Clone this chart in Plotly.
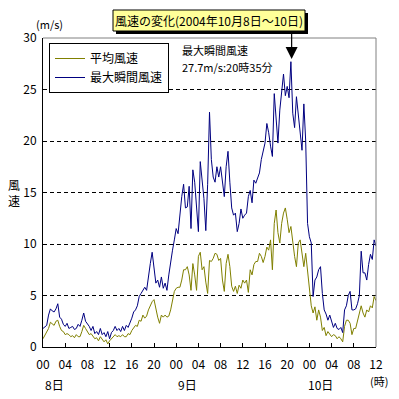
import plotly.graph_objects as go

# 20-minute samples, Oct 8 00:00 -> Oct 10 12:00 (hours since Oct 8 00:00)
gust = [
    1.8, 2.0, 2.1,  3.1, 3.7, 3.5,  3.4, 3.7, 4.2,  2.9, 2.7, 2.2,
    2.0, 2.3, 1.8,  1.9, 2.0, 1.7,  1.8, 2.2, 2.0,  2.6, 3.3, 2.5,
    2.3, 2.0, 1.6,  2.0, 1.3, 1.5,  1.2, 1.8, 1.2,  1.4, 1.0, 1.5,
    0.8, 1.4, 1.6,  2.0, 1.6, 1.8,  1.5, 2.0, 1.6,  2.1, 1.9, 2.3,
    2.8, 3.4, 3.6,  4.0, 4.9, 5.2,  5.5, 5.8, 5.5,  7.1, 8.1, 9.2,
    7.8, 6.2, 6.5,  5.8, 6.8, 5.7,  6.2, 5.5, 7.0,  8.4, 9.4, 10.4,
    11.5, 11.0, 13.0,  14.6, 15.8, 13.5,  13.6, 15.6, 11.5,  17.2, 16.0, 13.5,
    11.2, 18.0, 16.5,  14.4, 11.3, 15.8,  22.8, 18.2, 16.5,  16.0, 17.5, 16.5,
    17.5, 16.0, 14.6,  17.5, 19.0, 16.0,  13.5, 12.8, 13.0,  11.2, 12.0, 13.4,
    12.5, 12.8, 13.0,  14.6, 15.2, 14.0,  16.2, 15.9, 16.5,  16.9, 18.2, 19.0,
    19.8, 21.7, 20.8,  19.5, 18.5, 24.6,  21.7, 19.8, 23.0,  25.0, 26.5, 24.4,
    25.3, 24.2, 27.7,  22.7, 21.3, 24.3,  22.4, 21.0, 19.1,  23.6, 20.0, 12.0,
    10.7, 10.1, 4.9,  6.5, 6.8, 7.5,  7.8, 5.2, 3.6,  3.2, 2.6, 3.1,
    2.4, 1.9, 2.3,  1.8, 1.7, 1.9,  1.4, 3.6, 4.0,  5.0, 5.4, 3.6,
    3.6, 3.7, 4.2,  5.0, 9.3, 7.2,  7.2, 6.5, 8.0,  9.0, 8.5, 10.4,
    9.8,
]

mean = [
    0.8, 1.1, 1.5,  1.8, 2.4, 2.2,  2.1, 2.5, 2.6,  2.0, 1.6, 1.5,
    1.2, 1.3, 1.2,  1.0, 1.1, 0.9,  1.2, 1.0, 1.0,  1.5, 2.1, 1.8,
    1.5, 1.2, 1.3,  1.0, 0.8, 0.9,  0.6, 1.0, 0.8,  0.5, 0.7, 0.3,
    0.6, 0.8, 1.0,  1.2, 1.0, 1.1,  1.0, 1.2, 1.0,  1.0, 1.3, 1.2,
    1.6, 1.8, 2.1,  2.0, 2.6, 2.5,  3.1, 2.8, 3.0,  3.6, 4.0, 4.4,
    4.6, 3.6, 2.9,  2.3, 3.1, 2.9,  3.1, 2.9, 3.0,  3.6, 4.6, 5.4,
    5.7, 5.8, 5.8,  6.5, 7.5, 7.5,  7.8, 7.0, 5.5,  8.1, 7.0, 5.5,
    8.8, 9.2, 7.5,  7.8, 6.3, 5.2,  8.4, 8.3, 8.6,  9.1, 9.0, 8.4,
    8.6, 6.5, 5.4,  8.1, 9.0, 7.8,  5.9, 5.4, 5.9,  5.2, 6.0, 5.7,
    6.5, 6.2, 6.5,  5.3, 7.5, 7.0,  8.0, 8.3, 8.3,  9.1, 8.8, 8.2,
    8.8, 9.7, 9.4,  10.4, 7.5, 12.0,  13.3, 11.1, 10.1,  12.0, 13.0, 13.5,
    12.4, 11.1, 11.7,  10.1, 8.8, 7.8,  10.1, 10.4, 8.8,  7.8, 9.1, 7.2,
    5.2, 4.0, 3.3,  3.9, 2.6, 3.6,  2.9, 1.6, 1.9,  1.1, 1.5, 1.3,
    1.0, 1.2, 1.1,  0.8, 1.0, 0.8,  0.5, 2.0, 2.6,  2.6, 2.3, 1.2,
    1.8, 1.8, 2.5,  3.3, 4.0, 3.3,  2.9, 3.6, 3.4,  4.0, 3.8, 4.9,
    4.5,
]

hours = [i / 3 for i in range(len(gust))]
tick_vals = list(range(0, 61, 4))
tick_text = ["00", "04", "08", "12", "16", "20", "00", "04", "08", "12", "16", "20", "00", "04", "08", "12"]
day_labels = ["8日", "9日", "10日"]
day_pos = [2, 26, 50]

FONT = "Noto Sans CJK JP"
OFF = 8  # default page body margin
W = H = 399 - OFF
# plot area in page pixels
L, R, T, B = 43, 376, 38, 347


def px(x):
    return (x - L) / (R - L)


def py(y):
    return (B - y) / (B - T)


fig = go.Figure()
fig.add_trace(go.Scatter(x=hours, y=mean, mode="lines", name="平均風速",
                         line=dict(color="#808000", width=1)))
fig.add_trace(go.Scatter(x=hours, y=gust, mode="lines", name="最大瞬間風速",
                         line=dict(color="#000080", width=1)))

fig.update_layout(
    width=W, height=H,
    margin=dict(l=L - OFF, r=W - (R - OFF), t=T - OFF, b=H - (B - OFF), autoexpand=False),
    paper_bgcolor="white", plot_bgcolor="white",
    font=dict(family=FONT, size=12, color="black"),
    showlegend=True,
    legend=dict(x=px(49), y=py(43), xanchor="left", yanchor="top",
                bordercolor="black", borderwidth=1, bgcolor="white",
                font=dict(size=12), tracegroupgap=0, itemwidth=30),
    xaxis=dict(range=[0, 60], tickvals=tick_vals, ticktext=tick_text,
               showgrid=False, zeroline=False, showline=True, linecolor="black",
               linewidth=1, ticks="inside", ticklen=4, tickcolor="black",
               tickfont=dict(size=12), automargin=False, ticklabelstandoff=7),
    yaxis=dict(range=[0, 30], dtick=5, showgrid=True, gridcolor="black",
               griddash="4px,3px", gridwidth=1, zeroline=False, showline=True,
               linecolor="black", linewidth=1, ticks="", tickfont=dict(size=12),
               automargin=False, ticklabelstandoff=3),
)

# gray top/right frame
fig.add_shape(type="line", xref="paper", yref="paper", x0=0, x1=1, y0=1, y1=1,
              line=dict(color="#808080", width=1))
fig.add_shape(type="line", xref="paper", yref="paper", x0=1, x1=1, y0=0, y1=1,
              line=dict(color="#808080", width=1))

# title box with shadow
fig.add_shape(type="rect", xref="paper", yref="paper", x0=px(116), x1=px(308),
              y0=py(34), y1=py(13), fillcolor="black", line=dict(width=0))
fig.add_shape(type="rect", xref="paper", yref="paper", x0=px(113), x1=px(305),
              y0=py(31), y1=py(10), fillcolor="#FFFF99", line=dict(color="black", width=1))
fig.add_annotation(xref="paper", yref="paper", x=px(209), y=py(20.5),
                   text="風速の変化(2004年10月8日～10日)", showarrow=False,
                   font=dict(size=12), xanchor="center", yanchor="middle")

# arrow to peak
fig.add_annotation(x=44.8, y=(B - 59) / ((B - T) / 30), xref="x", yref="y",
                   text="", showarrow=True, ax=0, ay=-28, arrowhead=2,
                   arrowsize=2.0, arrowwidth=1.2, arrowcolor="black")

# peak text
fig.add_annotation(xref="paper", yref="paper", x=px(180), y=py(50), text="最大瞬間風速",
                   showarrow=False, xanchor="left", yanchor="middle", font=dict(size=11))
fig.add_annotation(xref="paper", yref="paper", x=px(180), y=py(67), text="27.7m/s:20時35分",
                   showarrow=False, xanchor="left", yanchor="middle", font=dict(size=11))

# units / axis titles
fig.add_annotation(xref="paper", yref="paper", x=px(49), y=py(24), text="(m/s)",
                   showarrow=False, xanchor="center", yanchor="middle", font=dict(size=11))
fig.add_annotation(xref="paper", yref="paper", x=px(14), y=py(192), text="風<br>速",
                   showarrow=False, xanchor="center", yanchor="middle", font=dict(size=12))
for lab, pos in zip(day_labels, day_pos):
    fig.add_annotation(x=pos, xref="x", yref="paper", y=py(384), text=lab,
                       showarrow=False, xanchor="center", yanchor="middle", font=dict(size=12))
fig.add_annotation(xref="paper", yref="paper", x=px(379), y=py(381), text="(時)",
                   showarrow=False, xanchor="center", yanchor="middle", font=dict(size=11))

fig.write_html("out.html")
